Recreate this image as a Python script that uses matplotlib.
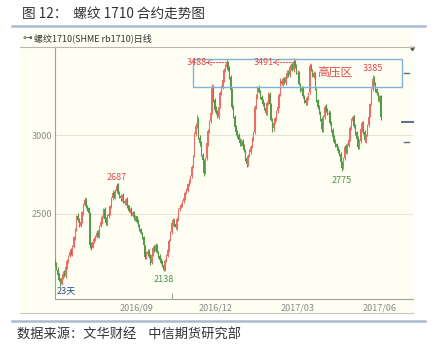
import numpy as np
import matplotlib.pyplot as plt
from matplotlib.patches import Rectangle

plt.rcParams['font.family'] = ['Noto Sans CJK SC', 'DejaVu Sans']

# ------------------------------------------------------------
# Data: rb1710 daily candles (trading-day index 0..243)
# ------------------------------------------------------------
opens = [
    2200, 2185, 2145, 2115, 2085, 2055, 2095, 2125, 2105, 2160,
    2195, 2235, 2265, 2245, 2290, 2345, 2400, 2490, 2465, 2425,
    2445, 2505, 2560, 2595, 2545, 2535, 2500, 2305, 2285, 2325,
    2335, 2355, 2385, 2355, 2425, 2445, 2485, 2530, 2465, 2435,
    2485, 2505, 2545, 2600, 2640, 2605, 2645, 2690, 2635, 2615,
    2595, 2625, 2585, 2565, 2595, 2555, 2515, 2535, 2490, 2515,
    2465, 2485, 2455, 2425, 2405, 2375, 2350, 2295, 2230, 2245,
    2265, 2235, 2185, 2245, 2285, 2265, 2305, 2255, 2235, 2210,
    2195, 2175, 2140, 2205, 2235, 2270, 2335, 2385, 2435, 2465,
    2435, 2410, 2465, 2530, 2545, 2555, 2580, 2600, 2640, 2645,
    2685, 2715, 2740, 2805, 2870, 3010, 3065, 3110, 2985, 2955,
    2875, 2840, 2765, 2855, 2945, 3025, 3095, 3150, 3310, 3225,
    3170, 3155, 3115, 3185, 3265, 3305, 3350, 3415, 3435, 3465,
    3425, 3370, 3295, 3185, 3115, 3060, 3015, 3005, 2975, 2945,
    2965, 2935, 2905, 2855, 2815, 2875, 2895, 2930, 2975, 3020,
    3180, 3245, 3305, 3275, 3245, 3225, 3205, 3175, 3140, 3205,
    3265, 3195, 3095, 3045, 3085, 3105, 3155, 3185, 3260, 3350,
    3325, 3365, 3335, 3375, 3405, 3385, 3430, 3455, 3415, 3475,
    3445, 3395, 3400, 3325, 3285, 3305, 3245, 3225, 3200, 3235,
    3275, 3445, 3415, 3375, 3395, 3295, 3225, 3185, 3145, 3105,
    3035, 3115, 3190, 3165, 3135, 3145, 3085, 3035, 2995, 2965,
    2945, 2925, 2905, 2885, 2825, 2795, 2855, 2930, 2895, 2935,
    2975, 3045, 3095, 3120, 3065, 3020, 2985, 2925, 2965, 3035,
    3085, 3025, 2965, 3005, 3065, 3125, 3205, 3295, 3370, 3325,
    3295, 3265, 3225, 3250,
]
highs = [
    2215, 2195, 2160, 2125, 2095, 2100, 2135, 2140, 2170, 2215,
    2240, 2275, 2280, 2300, 2360, 2410, 2495, 2505, 2475, 2460,
    2520, 2570, 2605, 2600, 2560, 2545, 2510, 2320, 2330, 2355,
    2365, 2395, 2395, 2430, 2460, 2495, 2540, 2545, 2480, 2500,
    2515, 2560, 2610, 2650, 2645, 2660, 2700, 2695, 2645, 2625,
    2630, 2635, 2595, 2600, 2605, 2560, 2540, 2545, 2520, 2520,
    2495, 2490, 2465, 2435, 2410, 2385, 2360, 2300, 2265, 2275,
    2275, 2245, 2250, 2295, 2300, 2315, 2310, 2265, 2245, 2220,
    2205, 2180, 2210, 2245, 2280, 2340, 2390, 2450, 2475, 2470,
    2445, 2480, 2535, 2555, 2570, 2590, 2610, 2645, 2665, 2700,
    2725, 2750, 2810, 2875, 3025, 3080, 3130, 3115, 3000, 2965,
    2890, 2850, 2860, 2960, 3040, 3100, 3155, 3330, 3320, 3240,
    3190, 3165, 3190, 3285, 3320, 3365, 3430, 3455, 3490, 3475,
    3440, 3385, 3305, 3195, 3130, 3070, 3035, 3015, 2985, 2975,
    2975, 2945, 2915, 2865, 2880, 2915, 2940, 2990, 3030, 3195,
    3265, 3315, 3320, 3290, 3255, 3235, 3215, 3185, 3220, 3280,
    3275, 3205, 3110, 3090, 3120, 3160, 3195, 3270, 3365, 3360,
    3370, 3375, 3385, 3415, 3415, 3445, 3465, 3465, 3491, 3480,
    3455, 3420, 3410, 3335, 3315, 3315, 3255, 3240, 3250, 3280,
    3462, 3455, 3425, 3410, 3405, 3305, 3235, 3195, 3155, 3115,
    3130, 3195, 3200, 3175, 3160, 3155, 3095, 3045, 3005, 2975,
    2955, 2935, 2915, 2895, 2840, 2860, 2940, 2945, 2950, 2985,
    3060, 3110, 3130, 3130, 3075, 3030, 2995, 2975, 3050, 3095,
    3095, 3035, 3010, 3075, 3130, 3210, 3300, 3385, 3380, 3340,
    3305, 3280, 3260, 3260,
]
lows = [
    2170, 2140, 2100, 2070, 2040, 2045, 2085, 2100, 2095, 2150,
    2185, 2225, 2240, 2235, 2280, 2335, 2390, 2450, 2420, 2415,
    2440, 2495, 2550, 2540, 2520, 2495, 2285, 2270, 2280, 2315,
    2325, 2345, 2350, 2345, 2415, 2435, 2475, 2460, 2430, 2425,
    2475, 2495, 2535, 2590, 2600, 2595, 2635, 2630, 2600, 2585,
    2585, 2570, 2555, 2560, 2540, 2510, 2505, 2485, 2480, 2460,
    2455, 2440, 2420, 2390, 2370, 2340, 2290, 2210, 2215, 2235,
    2220, 2175, 2180, 2235, 2260, 2255, 2250, 2220, 2195, 2180,
    2160, 2135, 2135, 2195, 2225, 2260, 2325, 2375, 2425, 2420,
    2405, 2400, 2455, 2520, 2535, 2545, 2570, 2590, 2625, 2640,
    2675, 2700, 2730, 2795, 2860, 2995, 3050, 2975, 2930, 2870,
    2830, 2740, 2755, 2845, 2935, 3015, 3080, 3140, 3215, 3150,
    3135, 3110, 3105, 3175, 3255, 3295, 3340, 3405, 3425, 3410,
    3360, 3280, 3170, 3110, 3045, 3005, 2985, 2960, 2935, 2935,
    2920, 2895, 2840, 2800, 2805, 2860, 2885, 2920, 2965, 3010,
    3170, 3235, 3270, 3230, 3215, 3190, 3160, 3130, 3130, 3195,
    3190, 3090, 3020, 3030, 3075, 3095, 3145, 3175, 3250, 3320,
    3315, 3330, 3325, 3365, 3370, 3375, 3420, 3410, 3405, 3430,
    3390, 3380, 3320, 3280, 3275, 3240, 3210, 3195, 3195, 3225,
    3265, 3410, 3370, 3365, 3290, 3215, 3170, 3140, 3090, 3020,
    3025, 3105, 3150, 3130, 3125, 3070, 3020, 2985, 2950, 2925,
    2915, 2890, 2870, 2820, 2775, 2785, 2845, 2890, 2885, 2925,
    2965, 3035, 3085, 3050, 3005, 2970, 2915, 2915, 2955, 3025,
    3010, 2960, 2955, 2995, 3055, 3115, 3195, 3285, 3320, 3280,
    3260, 3220, 3215, 3100,
]
closes = [
    2180, 2150, 2110, 2080, 2060, 2090, 2120, 2110, 2160, 2200,
    2230, 2260, 2250, 2290, 2350, 2400, 2480, 2460, 2430, 2450,
    2510, 2560, 2590, 2550, 2530, 2505, 2300, 2290, 2320, 2340,
    2350, 2380, 2360, 2420, 2450, 2480, 2525, 2470, 2440, 2490,
    2500, 2550, 2600, 2634, 2610, 2650, 2680, 2640, 2610, 2600,
    2620, 2580, 2570, 2590, 2550, 2520, 2530, 2495, 2510, 2470,
    2480, 2450, 2430, 2400, 2380, 2353, 2300, 2225, 2250, 2260,
    2230, 2190, 2240, 2280, 2270, 2300, 2260, 2230, 2207, 2190,
    2170, 2145, 2200, 2230, 2270, 2330, 2380, 2440, 2460, 2430,
    2417, 2470, 2525, 2540, 2560, 2575, 2600, 2633, 2650, 2690,
    2710, 2735, 2800, 2862, 3015, 3060, 3100, 2990, 2950, 2880,
    2843, 2760, 2850, 2950, 3030, 3090, 3143, 3300, 3230, 3162,
    3150, 3120, 3180, 3270, 3310, 3353, 3417, 3440, 3460, 3420,
    3372, 3290, 3180, 3120, 3055, 3020, 3000, 2970, 2950, 2960,
    2930, 2907, 2850, 2820, 2870, 2900, 2927, 2980, 3015, 3183,
    3250, 3300, 3280, 3240, 3226, 3200, 3170, 3143, 3210, 3270,
    3200, 3100, 3040, 3080, 3110, 3150, 3183, 3260, 3353, 3330,
    3360, 3340, 3372, 3400, 3380, 3436, 3450, 3420, 3470, 3440,
    3400, 3398, 3330, 3290, 3300, 3250, 3220, 3207, 3240, 3270,
    3440, 3420, 3380, 3398, 3300, 3226, 3180, 3150, 3100, 3040,
    3120, 3183, 3160, 3140, 3143, 3080, 3030, 2993, 2960, 2940,
    2927, 2900, 2887, 2830, 2790, 2850, 2927, 2900, 2940, 2971,
    3050, 3100, 3118, 3060, 3015, 2980, 2927, 2960, 3040, 3080,
    3020, 2971, 3000, 3060, 3118, 3200, 3290, 3360, 3330, 3290,
    3270, 3230, 3245, 3120,
]

month_labels = ["2016/09", "2016/12", "2017/03", "2017/06"]
month_pos = [61, 120, 181, 242]

# highs/lows annotated on chart: (label, day index) / (label, day index, value, colour key)
peak_labels = [("3488", 128), ("3491", 178)]
other_labels = [("2687", 46, 2687, "up"), ("2138", 81, 2138, "down"),
                ("2775", 214, 2775, "down"), ("3385", 237, 3385, "up")]
zone_low, zone_high = 3309, 3487
right_marks = [3398, 3086, 2958]

# ------------------------------------------------------------
# Figure
# ------------------------------------------------------------
W, H = 446, 354
fig = plt.figure(figsize=(W / 100, H / 100), dpi=100)
fig.patch.set_facecolor("white")

def fx(px):
    return px / W

def fy(py):
    return 1 - py / H

cream = "#fefef3"
up_col = "#e66f66"
dn_col = "#559a48"
red_txt = "#e04a4a"
grn_txt = "#4a944a"

# title + rules
fig.text(fx(22), fy(14), "图 12：  螺纹 1710 合约走势图", fontsize=9.8,
         color="#333333", va="center", ha="left")
fig.add_artist(plt.Line2D([fx(12), fx(425)], [fy(26), fy(26)], color="#a9bccf", lw=1.8))
fig.add_artist(plt.Line2D([fx(12), fx(425)], [fy(321), fy(321)], color="#a9bccf", lw=1.8))
fig.text(fx(17), fy(335), "数据来源：文华财经    中信期货研究部", fontsize=9.5,
         color="#333333", va="center", ha="left")

# cream panel
fig.add_artist(Rectangle((fx(20), fy(313)), fx(414) - fx(20), fy(30) - fy(313),
                         transform=fig.transFigure, facecolor=cream, edgecolor="none", zorder=0))
fig.add_artist(plt.Line2D([fx(20), fx(413)], [fy(46.5), fy(46.5)], color="#b8b8b0", lw=0.8))
fig.add_artist(plt.Line2D([fx(20), fx(413)], [fy(313), fy(313)], color="#c8c8c0", lw=0.8))
fig.text(fx(22), fy(38), "⊶", fontsize=7, color="#555555", va="center", ha="left",
         family=["DejaVu Sans"])
fig.text(fx(34), fy(38), "螺纹1710(SHME rb1710)日线", fontsize=6.5, color="#333333",
         va="center", ha="left")

# ------------------------------------------------------------
# Candles
# ------------------------------------------------------------
ax = fig.add_axes([fx(54.5), fy(299), fx(413) - fx(54.5), fy(47) - fy(299)])
ax.set_facecolor(cream)

o = np.array(opens)
h = np.array(highs)
l = np.array(lows)
c = np.array(closes)
x = np.arange(len(c))
cols = np.where(c >= o, up_col, dn_col)

ax.vlines(x, l, h, colors=cols, lw=0.8, zorder=3)
body = np.maximum(np.abs(c - o), 4)
ax.bar(x, body, bottom=np.minimum(o, c), width=0.9, color=cols, lw=0, zorder=3)

ax.set_xlim(-0.4, 267)
ax.set_ylim(1958, 3564)

ax.set_yticks([2500, 3000])
ax.set_yticklabels(["2500", "3000"])
ax.grid(axis="y", color="#e6e6d8", lw=0.8)
ax.set_axisbelow(True)
ax.set_xticks(month_pos)
ax.set_xticklabels(month_labels)
ax.set_xticks([87, 242], minor=True)
ax.tick_params(axis="both", which="major", length=0, labelsize=6.5,
               colors="#8a8a8a", pad=3)
ax.tick_params(axis="x", which="minor", length=4, direction="in", color="#888888")
ax.tick_params(axis="y", pad=2)
for s in ["top", "right"]:
    ax.spines[s].set_visible(False)
for s in ["left", "bottom"]:
    ax.spines[s].set_color("#a0a0a0")
    ax.spines[s].set_linewidth(0.8)

# high-pressure zone
ax.add_patch(Rectangle((103, zone_low), 259 - 103, zone_high - zone_low,
                       facecolor="none", edgecolor="#7fb2d9", lw=1.0, zorder=4))
ax.text(209, 3405, "高压区", color=red_txt, fontsize=8.5, ha="center", va="center", zorder=5)

# peak labels with dashed arrows
for lab, i in peak_labels:
    yv = h[i] - 25
    ax.text(i - 30, yv, lab, color=red_txt, fontsize=6.5, ha="left", va="center", zorder=5)
    ax.annotate("", xy=(i - 16, yv), xytext=(i, yv),
                arrowprops=dict(arrowstyle="->", color=red_txt, lw=0.7, ls=(0, (1.5, 1.5)),
                                shrinkA=0, shrinkB=0), zorder=5)

for lab, i, v, kind in other_labels:
    if kind == "up":
        ax.text(i, v + 15, lab, color=red_txt, fontsize=6.5, ha="center", va="bottom", zorder=5)
    else:
        ax.text(i, v - 30, lab, color=grn_txt, fontsize=6.5, ha="center", va="top", zorder=5)

ax.text(1, 1985, "23天", color="#2a4a8a", fontsize=6.5, ha="left", va="bottom", zorder=5)

# right-edge price markers
ax.plot([260, 264], [right_marks[0]] * 2, color="#666688", lw=1, clip_on=False)
ax.plot([259, 267], [right_marks[1]] * 2, color="#5a6a9a", lw=1.4, clip_on=False)
ax.plot([260, 264], [right_marks[2]] * 2, color="#666688", lw=1, clip_on=False)
ax.plot([266], [3555], marker=(3, 0, 180), color="#555555", ms=3, clip_on=False)

fig.savefig("out.png", dpi=100)
